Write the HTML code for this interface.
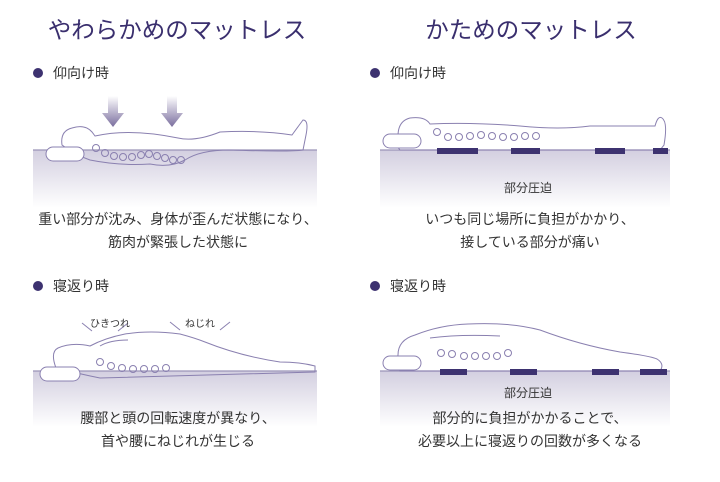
<!DOCTYPE html>
<html><head><meta charset="utf-8"><style>
body{margin:0;background:#fff;}
svg{display:block;font-family:"Liberation Sans","Noto Sans CJK JP",sans-serif;}
</style></head><body>
<svg width="720" height="482" viewBox="0 0 720 482" xmlns="http://www.w3.org/2000/svg">
<defs>
<linearGradient id="m" x1="0" y1="0" x2="0" y2="1"><stop offset="0" stop-color="#d3cfe0"/><stop offset="1" stop-color="#fff"/></linearGradient>
<linearGradient id="a" x1="0" y1="0" x2="0" y2="1"><stop offset="0" stop-color="#fff"/><stop offset="1" stop-color="#7a6e9e"/></linearGradient>
</defs>
<g text-anchor="middle" font-size="23.5" fill="#3a2f6e">
<text x="177" y="38">やわらかめのマットレス</text>
<text x="531" y="38">かためのマットレス</text>
</g>
<g fill="#3d3270"><circle cx="38" cy="73" r="5"/><circle cx="375" cy="73" r="5"/><circle cx="38" cy="286" r="5"/><circle cx="375" cy="286" r="5"/></g>
<g fill="#333" font-size="14">
<text x="53" y="78">仰向け時</text><text x="390" y="78">仰向け時</text>
<text x="53" y="291">寝返り時</text><text x="390" y="291">寝返り時</text>
</g>
<rect x="33" y="150" width="284" height="58" fill="url(#m)"/>
<rect x="380" y="150" width="290" height="58" fill="url(#m)"/>
<rect x="33" y="371" width="284" height="56" fill="url(#m)"/>
<rect x="380" y="371" width="290" height="56" fill="url(#m)"/>
<g stroke="#9a93b8" stroke-width="1.3"><line x1="33" y1="150" x2="317" y2="150"/><line x1="380" y1="150" x2="670" y2="150"/><line x1="33" y1="371" x2="317" y2="371"/><line x1="380" y1="371" x2="670" y2="371"/></g>
<g fill="url(#a)"><path d="M108 96h10v17h6l-11 14-11-14h6z"/><path d="M167 96h10v17h6l-11 14-11-14h6z"/></g>
<g fill="none" stroke="#8a80b0" stroke-width="1">
<path d="M62 145 Q60 131 72 128 Q85 124 92 132 L95 136 Q130 128 178 138 Q195 142 220 132 Q260 130 292 135 Q300 124 303 120 Q309 120 306 135 L303 150 Q290 152 230 150 Q200 150 185 160 Q170 168 150 164 Q120 166 90 160 Q75 155 62 145Z"/>
<rect x="46" y="147" width="38" height="14" rx="7" fill="#fff"/>
<g><circle cx="96" cy="148" r="3.5"/><circle cx="105" cy="153" r="3.5"/><circle cx="114" cy="156" r="3.5"/><circle cx="123" cy="157" r="3.5"/><circle cx="132" cy="157" r="3.5"/><circle cx="141" cy="155" r="3.5"/><circle cx="149" cy="154" r="3.5"/><circle cx="157" cy="156" r="3.5"/><circle cx="165" cy="158" r="3.5"/><circle cx="173" cy="160" r="3.5"/><circle cx="181" cy="160" r="3.5"/></g>
<path d="M398 136 Q398 121 410 118 Q425 116 430 124 Q470 122 520 126 Q560 130 590 126 Q630 126 655 126 Q658 115 662 118 Q668 122 664 145 L660 150 L400 150 Q395 145 398 136Z"/>
<rect x="383" y="134" width="38" height="14" rx="7" fill="#fff"/>
<g><circle cx="437" cy="132" r="3.5"/><circle cx="448" cy="137" r="3.5"/><circle cx="459" cy="137" r="3.5"/><circle cx="470" cy="136" r="3.5"/><circle cx="481" cy="135" r="3.5"/><circle cx="492" cy="136" r="3.5"/><circle cx="503" cy="137" r="3.5"/><circle cx="514" cy="137" r="3.5"/><circle cx="525" cy="136" r="3.5"/><circle cx="536" cy="136" r="3.5"/></g>
<path d="M56 368 Q50 352 58 348 Q72 342 90 346 Q105 338 125 334 Q150 330 180 334 Q195 338 205 342 Q240 356 280 362 Q300 362 315 366 L315 372 L100 378 Q80 374 56 368Z"/>
<path d="M100 346 Q110 340 128 340"/>
<rect x="40" y="367" width="40" height="14" rx="7" fill="#fff"/>
<g><circle cx="100" cy="362" r="3.5"/><circle cx="111" cy="366" r="3.5"/><circle cx="122" cy="368" r="3.5"/><circle cx="133" cy="369" r="3.5"/><circle cx="144" cy="369" r="3.5"/><circle cx="155" cy="369" r="3.5"/><circle cx="166" cy="368" r="3.5"/></g>
<path d="M82 323 l10 8M128 323 l-10 8M170 322 l10 8M230 322 l-10 8"/>
<path d="M398 355 Q398 340 415 335 Q440 325 468 324 Q510 322 540 330 Q580 345 620 352 Q650 356 657 359 Q665 364 660 371 L400 371 Q395 365 398 355Z"/>
<path d="M430 338 Q460 334 500 336"/>
<rect x="383" y="356" width="38" height="14" rx="7" fill="#fff"/>
<g><circle cx="441" cy="353" r="3.5"/><circle cx="452" cy="354" r="3.5"/><circle cx="464" cy="356" r="3.5"/><circle cx="475" cy="356" r="3.5"/><circle cx="486" cy="356" r="3.5"/><circle cx="497" cy="356" r="3.5"/><circle cx="508" cy="353" r="3.5"/></g>
</g>
<g fill="#3d3270">
<rect x="437" y="148" width="41" height="6"/><rect x="511" y="148" width="29" height="6"/><rect x="595" y="148" width="30" height="6"/><rect x="653" y="148" width="15" height="6"/>
<rect x="440" y="369" width="27" height="6"/><rect x="510" y="369" width="27" height="6"/><rect x="592" y="369" width="27" height="6"/><rect x="640" y="369" width="27" height="6"/>
</g>
<g fill="#333" text-anchor="middle">
<text x="528" y="192" font-size="12">部分圧迫</text>
<text x="528" y="397" font-size="12">部分圧迫</text>
<text x="110" y="327" font-size="10">ひきつれ</text>
<text x="200" y="327" font-size="10">ねじれ</text>
<g font-size="14">
<text x="178" y="224">重い部分が沈み、身体が歪んだ状態になり、</text>
<text x="178" y="247">筋肉が緊張した状態に</text>
<text x="530" y="224">いつも同じ場所に負担がかかり、</text>
<text x="530" y="247">接している部分が痛い</text>
<text x="178" y="423">腰部と頭の回転速度が異なり、</text>
<text x="178" y="446">首や腰にねじれが生じる</text>
<text x="530" y="423">部分的に負担がかかることで、</text>
<text x="530" y="446">必要以上に寝返りの回数が多くなる</text>
</g></g>
</svg>
</body></html>
